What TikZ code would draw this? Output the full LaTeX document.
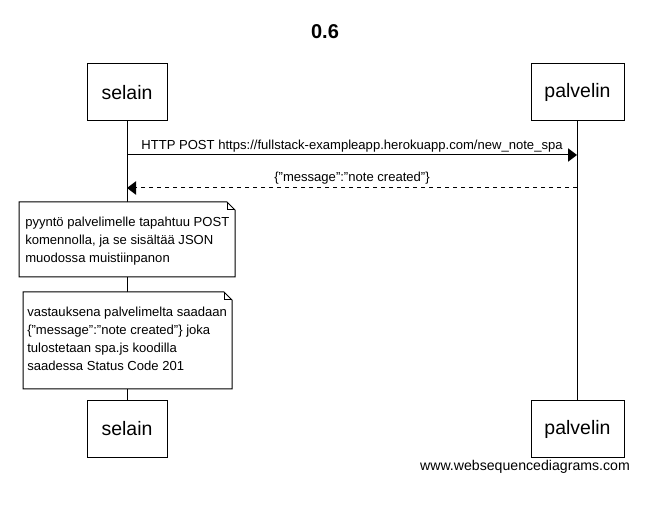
\documentclass[tikz,border=0pt]{standalone}
\usepackage{fontspec}
\setmainfont{Liberation Sans}
\usetikzlibrary{arrows.meta}

\begin{document}
\begin{tikzpicture}[x=0.75pt,y=0.75pt,yscale=-1,xscale=1,
  actor/.style={draw,line width=0.75pt,fill=white,inner sep=0pt,minimum height=42.75pt,font=\fontsize{14.6}{17}\selectfont},
  msgtext/.style={inner sep=0pt,font=\fontsize{9.8}{12}\selectfont},
  notetext/.style={inner sep=0pt,align=left,anchor=base west,font=\fontsize{9.8}{13.5}\selectfont},
  notebox/.style={draw,line width=0.75pt,fill=white},
  msgtip/.style={-{Triangle[length=6.75pt,width=10pt]}}]
\useasboundingbox (0,0) rectangle (647,520);

% Text Node
\node[font=\bfseries\fontsize{15}{18}\selectfont] (title) at (325,32) {0.6};

%Shape: Rectangle
\node[actor,minimum width=60pt] (selainTop) at (127,92.5) {selain};
\node[actor,minimum width=69.75pt] (palvelinTop) at (577.5,92.5) {palvelin};
\node[actor,minimum width=60pt] (selainBot) at (127,429) {selain};
\node[actor,minimum width=69.75pt] (palvelinBot) at (577.5,429) {palvelin};

%Straight Lines
\draw[line width=0.75pt] (selainTop.south) -- (selainBot.north);
\draw[line width=0.75pt] (palvelinTop.south) -- (palvelinBot.north);

\coordinate (postFrom) at (127,155);
\coordinate (postTo) at (577,155);
\coordinate (replyFrom) at (577,188);
\coordinate (replyTo) at (127,188);

\draw[line width=0.75pt,msgtip] (postFrom) -- (postTo);
\draw[line width=0.75pt,dash pattern={on 3pt off 3pt},msgtip] (replyFrom) -- (replyTo);

% Text Node
\node[msgtext,anchor=base] (postLabel) at (352,150) {HTTP POST https://fullstack-exampleapp.herokuapp.com/new\_note\_spa};
% Text Node
\node[msgtext,anchor=base] (replyLabel) at (352,182) {\{"message":"note created"\}};

%Shape: Note
\draw[notebox] (19,202) -- (227,202) -- (235,210) -- (235,277) -- (19,277) -- cycle;
\draw[line width=0.75pt] (227,202) -- (227,210) -- (235,210);
\node[notetext] (noteOne) at (25,263) {pyyntö palvelimelle tapahtuu POST\\komennolla, ja se sisältää JSON\\muodossa muistiinpanon};

%Shape: Note
\draw[notebox] (23,292) -- (224,292) -- (232,300) -- (232,389) -- (23,389) -- cycle;
\draw[line width=0.75pt] (224,292) -- (224,300) -- (232,300);
\node[notetext] (noteTwo) at (27,371) {vastauksena palvelimelta saadaan\\\{"message":"note created"\} joka\\tulostetaan spa.js koodilla\\saadessa Status Code 201};

% Text Node
\node[inner sep=0pt,font=\fontsize{10.6}{13}\selectfont] (footer) at (525,467) {www.websequencediagrams.com};

\end{tikzpicture}
\end{document}
